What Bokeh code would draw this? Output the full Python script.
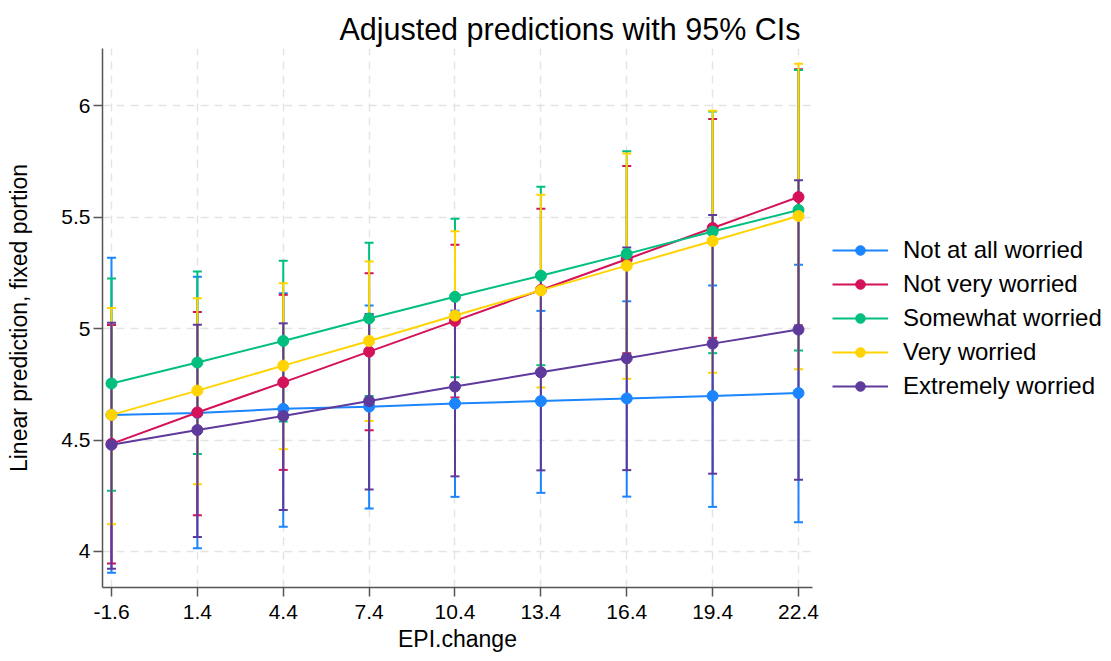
from bokeh.plotting import figure
from bokeh.layouts import row
from bokeh.models import (ColumnDataSource, Whisker, TeeHead, Legend, LegendItem,
                          FixedTicker, Range1d)
from bokeh.embed import file_html
from bokeh.resources import INLINE

# ---------------- data ----------------
epi_change = [-1.6, 1.4, 4.4, 7.4, 10.4, 13.4, 16.4, 19.4, 22.4]
x_tick_labels = ["-1.6", "1.4", "4.4", "7.4", "10.4", "13.4", "16.4", "19.4", "22.4"]
y_ticks = [4, 4.5, 5, 5.5, 6]
y_tick_labels = ["4", "4.5", "5", "5.5", "6"]

series_labels = ["Not at all worried", "Not very worried", "Somewhat worried",
                 "Very worried", "Extremely worried"]
series_colors = ["#1a85ff", "#d41159", "#00bf7f", "#ffd400", "#5d3a9b"]

not_at_all_mean = [4.613, 4.622, 4.640, 4.650, 4.664, 4.675, 4.687, 4.698, 4.711]
not_at_all_lo = [3.904, 4.014, 4.111, 4.193, 4.245, 4.263, 4.246, 4.200, 4.131]
not_at_all_hi = [5.318, 5.233, 5.159, 5.104, 5.081, 5.080, 5.123, 5.194, 5.287]

not_very_mean = [4.483, 4.624, 4.759, 4.897, 5.035, 5.174, 5.312, 5.452, 5.591]
not_very_lo = [3.946, 4.162, 4.366, 4.544, 4.691, 4.809, 4.890, 4.959, 5.014]
not_very_hi = [5.017, 5.075, 5.152, 5.249, 5.377, 5.539, 5.731, 5.941, 6.165]

somewhat_mean = [4.754, 4.848, 4.945, 5.046, 5.143, 5.238, 5.336, 5.436, 5.533]
somewhat_lo = [4.272, 4.437, 4.583, 4.698, 4.782, 4.836, 4.883, 4.890, 4.902]
somewhat_hi = [5.225, 5.257, 5.305, 5.386, 5.494, 5.637, 5.797, 5.975, 6.162]

very_mean = [4.613, 4.722, 4.834, 4.945, 5.059, 5.172, 5.283, 5.394, 5.506]
very_lo = [4.122, 4.302, 4.459, 4.586, 4.681, 4.736, 4.775, 4.802, 4.818]
very_hi = [5.093, 5.137, 5.204, 5.302, 5.437, 5.601, 5.787, 5.979, 6.189]

extremely_mean = [4.479, 4.545, 4.608, 4.675, 4.740, 4.804, 4.867, 4.933, 4.996]
extremely_lo = [3.922, 4.065, 4.186, 4.278, 4.337, 4.364, 4.365, 4.349, 4.322]
extremely_hi = [5.027, 5.018, 5.024, 5.066, 5.138, 5.243, 5.364, 5.510, 5.667]

series_data = [
    (not_at_all_mean, not_at_all_lo, not_at_all_hi),
    (not_very_mean, not_very_lo, not_very_hi),
    (somewhat_mean, somewhat_lo, somewhat_hi),
    (very_mean, very_lo, very_hi),
    (extremely_mean, extremely_lo, extremely_hi),
]

FONT = "Liberation Sans"
H = 660

# ---------------- main figure ----------------
p = figure(width=830, height=H, output_backend="svg", toolbar_location=None,
           x_range=Range1d(-1.914, 22.889), y_range=Range1d(3.838, 6.258),
           min_border_left=102, min_border_right=18, min_border_top=48,
           min_border_bottom=H - 587)
p.background_fill_color = "white"
p.border_fill_color = "white"
p.outline_line_color = None

p.title.text = "Adjusted predictions with 95% CIs"
p.title.text_font = FONT
p.title.text_font_size = "30.5px"
p.title.text_font_style = "normal"
p.title.text_color = "black"
p.title.align = "right"
p.title.offset = 12
p.title.standoff = 5

# axes
p.xaxis.ticker = FixedTicker(ticks=epi_change)
p.xaxis.major_label_overrides = {v: s for v, s in zip(epi_change, x_tick_labels)}
p.yaxis.ticker = FixedTicker(ticks=y_ticks)
p.yaxis.major_label_overrides = {v: s for v, s in zip(y_ticks, y_tick_labels)}
p.xaxis.axis_label = "EPI.change"
p.yaxis.axis_label = "Linear prediction, fixed portion"
for ax in (p.xaxis, p.yaxis):
    ax.axis_line_color = "#555555"
    ax.axis_line_width = 1.5
    ax.major_tick_line_color = "#555555"
    ax.major_tick_line_width = 1.5
    ax.major_tick_out = 9
    ax.major_tick_in = 0
    ax.minor_tick_line_color = None
    ax.major_label_text_font = FONT
    ax.major_label_text_font_size = "21px"
    ax.major_label_text_color = "black"
    ax.axis_label_text_font = FONT
    ax.axis_label_text_font_size = "23px"
    ax.axis_label_text_font_style = "normal"
    ax.axis_label_text_color = "black"
p.xaxis.major_label_standoff = 8
p.xaxis.axis_label_standoff = 4
p.yaxis.major_label_standoff = 3
p.yaxis.axis_label_standoff = 26

# grid
for g in (p.xgrid, p.ygrid):
    g.grid_line_color = "#e4e4e4"
    g.grid_line_width = 1.5
    g.grid_line_dash = "8 6"

# CIs first
for (m, lo, hi), c in zip(series_data, series_colors):
    src = ColumnDataSource(dict(x=epi_change, lower=lo, upper=hi))
    w = Whisker(base="x", lower="lower", upper="upper", source=src,
                dimension="height", line_color=c, line_width=2,
                upper_head=TeeHead(size=9, line_color=c, line_width=2),
                lower_head=TeeHead(size=9, line_color=c, line_width=2))
    p.add_layout(w)

for (m, lo, hi), c in zip(series_data, series_colors):
    src = ColumnDataSource(dict(x=epi_change, y=m))
    p.line("x", "y", source=src, line_color=c, line_width=2)
    p.scatter("x", "y", source=src, size=11, fill_color=c, line_color=c)

# ---------------- legend figure ----------------
# same series drawn into a side panel whose ranges keep them out of view,
# so that only the legend of that panel is seen
lf = figure(width=1108 - 830, height=H, output_backend="svg", toolbar_location=None,
            x_axis_type=None, y_axis_type=None, min_border=0,
            min_border_bottom=H - 635,
            x_range=Range1d(1000, 1001), y_range=Range1d(1000, 1001))
lf.background_fill_color = "white"
lf.border_fill_color = "white"
lf.outline_line_color = None
items = []
for (m, lo, hi), c, lab in zip(series_data, series_colors, series_labels):
    src = ColumnDataSource(dict(x=epi_change, y=m))
    r1 = lf.line("x", "y", source=src, line_color=c, line_width=2)
    r2 = lf.scatter("x", "y", source=src, size=11, fill_color=c, line_color=c)
    items.append(LegendItem(label=lab, renderers=[r1, r2]))

legend = Legend(items=items, location="center_left", orientation="vertical",
                glyph_width=56, glyph_height=24, label_height=24,
                label_standoff=15, spacing=6, padding=0, margin=2,
                label_text_font=FONT, label_text_font_size="24px",
                label_text_color="black", border_line_color=None,
                background_fill_alpha=0)
lf.add_layout(legend)

layout = row(p, lf, spacing=0)
open("out.html", "w").write(file_html(layout, INLINE))
